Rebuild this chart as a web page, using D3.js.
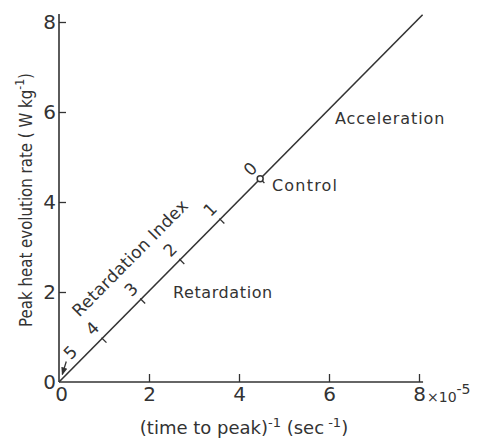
<!DOCTYPE html>
<html><head><meta charset="utf-8">
<script src="https://cdn.jsdelivr.net/npm/d3@7"></script>
<style>
html,body{margin:0;padding:0;background:#fff;}
svg text{font-family:"DejaVu Sans",sans-serif;fill:#333;}
</style></head>
<body><svg id="c" width="477" height="438"></svg>
<script>
// data
const xTicks = [0, 2, 4, 6, 8];
const yTicks = [0, 2, 4, 6, 8];
const lineX = [0, 8.08];
const lineY = [0, 8.16];
const indexLabels = ["4", "3", "2", "1", "0"];
const indexX = [0.96, 1.82, 2.69, 3.58, 4.47];
const index5X = 0.12;
const controlX = 4.47;

const svg = d3.select("#c");
const col = "#333";
const x = d3.scaleLinear().domain([0, 8]).range([59, 419]);
const y = d3.scaleLinear().domain([0, 8]).range([382, 22]);
const lineFn = v => lineY[1] / lineX[1] * v;

// axes lines
svg.append("line").attr("x1", x(0)).attr("x2", x(8.09)).attr("y1", y(0)).attr("y2", y(0))
  .attr("stroke", col).attr("stroke-width", 1.6);
svg.append("line").attr("x1", x(0)).attr("x2", x(0)).attr("y1", y(0)).attr("y2", y(8.18))
  .attr("stroke", col).attr("stroke-width", 1.6);

// ticks
const xa = d3.axisBottom(x).tickValues(xTicks).tickSizeInner(-8).tickSizeOuter(0).tickFormat(d3.format("d"));
const gx = svg.append("g").attr("transform", `translate(0,${y(0)})`).call(xa);
gx.select(".domain").remove();
gx.selectAll(".tick line").attr("stroke", col).attr("stroke-width", 1.3);
gx.selectAll(".tick text").attr("y", 5).attr("font-size", 20).attr("fill", col)
  .attr("font-family", "DejaVu Sans");
gx.selectAll(".tick").filter(d => d === 0).select("line").remove();
gx.selectAll(".tick").filter(d => d === 0).select("text").attr("x", 2);

const ya = d3.axisLeft(y).tickValues(yTicks).tickSizeInner(-7).tickSizeOuter(0).tickFormat(d3.format("d"));
const gy = svg.append("g").attr("transform", `translate(${x(0)},0)`).call(ya);
gy.select(".domain").remove();
gy.selectAll(".tick line").attr("stroke", col).attr("stroke-width", 1.3);
gy.selectAll(".tick text").attr("x", -3).attr("font-size", 20).attr("fill", col)
  .attr("font-family", "DejaVu Sans");
gy.selectAll(".tick").filter(d => d === 0).select("line").remove();

// x10^-5
const ex = svg.append("text").attr("x", x(8) + 8).attr("y", y(0) + 20).attr("font-size", 14);
ex.append("tspan").text("×10");
ex.append("tspan").attr("dy", -8).attr("font-size", 14).text("-5");

// main line
svg.append("line").attr("x1", x(lineX[0])).attr("y1", y(lineY[0]))
  .attr("x2", x(lineX[1])).attr("y2", y(lineY[1]))
  .attr("stroke", col).attr("stroke-width", 1.6);

// index ticks and labels
const ang = Math.atan2(y(lineY[1]) - y(0), x(lineX[1]) - x(0)); // negative
const px = Math.cos(ang + Math.PI / 2), py = Math.sin(ang + Math.PI / 2); // down-right
const deg = ang * 180 / Math.PI;
indexX.forEach((v, i) => {
  const cx = x(v), cy = y(lineFn(v));
  svg.append("line").attr("x1", cx - px * 1).attr("y1", cy - py * 1)
    .attr("x2", cx + px * 6).attr("y2", cy + py * 6)
    .attr("stroke", col).attr("stroke-width", 1.3);
  const lx = cx - px * 14, ly = cy - py * 14;
  svg.append("text").attr("transform", `translate(${lx},${ly}) rotate(${deg})`)
    .attr("text-anchor", "middle").attr("dy", "0.35em").attr("font-size", 17).text(indexLabels[i]);
});

// control circle
svg.append("circle").attr("cx", x(controlX)).attr("cy", y(lineFn(controlX))).attr("r", 3)
  .attr("fill", "#fff").attr("stroke", col).attr("stroke-width", 1.5);

// index 5 with arrow
{
  const tx = x(index5X), ty = y(lineFn(index5X));
  const ex2 = tx - px * 3, ey2 = ty - py * 3;
  const sx = ex2 + 4, sy = ey2 - 13;
  svg.append("defs").append("marker").attr("id", "ah").attr("viewBox", "0 0 10 10")
    .attr("refX", 9).attr("refY", 5).attr("markerWidth", 6).attr("markerHeight", 6)
    .attr("orient", "auto").append("path").attr("d", "M0,1L10,5L0,9Z").attr("fill", col);
  svg.append("line").attr("x1", sx).attr("y1", sy).attr("x2", ex2).attr("y2", ey2)
    .attr("stroke", col).attr("stroke-width", 1.3).attr("marker-end", "url(#ah)");
  svg.append("text").attr("transform", `translate(${sx + 4},${sy - 9}) rotate(${deg})`)
    .attr("text-anchor", "middle").attr("dy", "0.35em").attr("font-size", 17).text("5");
}

// Retardation Index label
svg.append("text").attr("transform", `translate(130,258) rotate(${deg})`)
  .attr("text-anchor", "middle").attr("dy", "0.35em").attr("font-size", 17)
  .attr("letter-spacing", 0.3).text("Retardation Index");

svg.append("text").attr("x", 173).attr("y", 298).attr("font-size", 16).attr("letter-spacing", 0.6).text("Retardation");
svg.append("text").attr("x", 272).attr("y", 191).attr("font-size", 16).attr("letter-spacing", 1.2).text("Control");
svg.append("text").attr("x", 335).attr("y", 124).attr("font-size", 16).attr("letter-spacing", 0.9).text("Acceleration");

// helper: fit a text horizontally to a target width (condensed lettering)
function fit(sel, target) {
  const w = sel.node().getComputedTextLength();
  return Math.min(1, target / w);
}

// axis titles
const yt = svg.append("text").attr("text-anchor", "middle").attr("font-size", 18);
yt.append("tspan").text("Peak heat evolution rate ( W kg");
yt.append("tspan").attr("dy", -8).attr("font-size", 13).text("-1");
yt.append("tspan").attr("dy", 8).text(")");
const sy1 = fit(yt, 254);
yt.attr("transform", `translate(32,200) rotate(-90) scale(${sy1},1)`);

const xt = svg.append("text").attr("text-anchor", "middle").attr("font-size", 18);
xt.append("tspan").text("(time to peak)");
xt.append("tspan").attr("dy", -7).attr("font-size", 13).text("-1");
xt.append("tspan").attr("dy", 7).text(" (sec");
xt.append("tspan").attr("dy", -7).attr("font-size", 13).text(" -1");
xt.append("tspan").attr("dy", 7).text(")");
const sx1 = fit(xt, 222);
xt.attr("transform", `translate(244,434) scale(${sx1},1)`);
</script></body></html>
